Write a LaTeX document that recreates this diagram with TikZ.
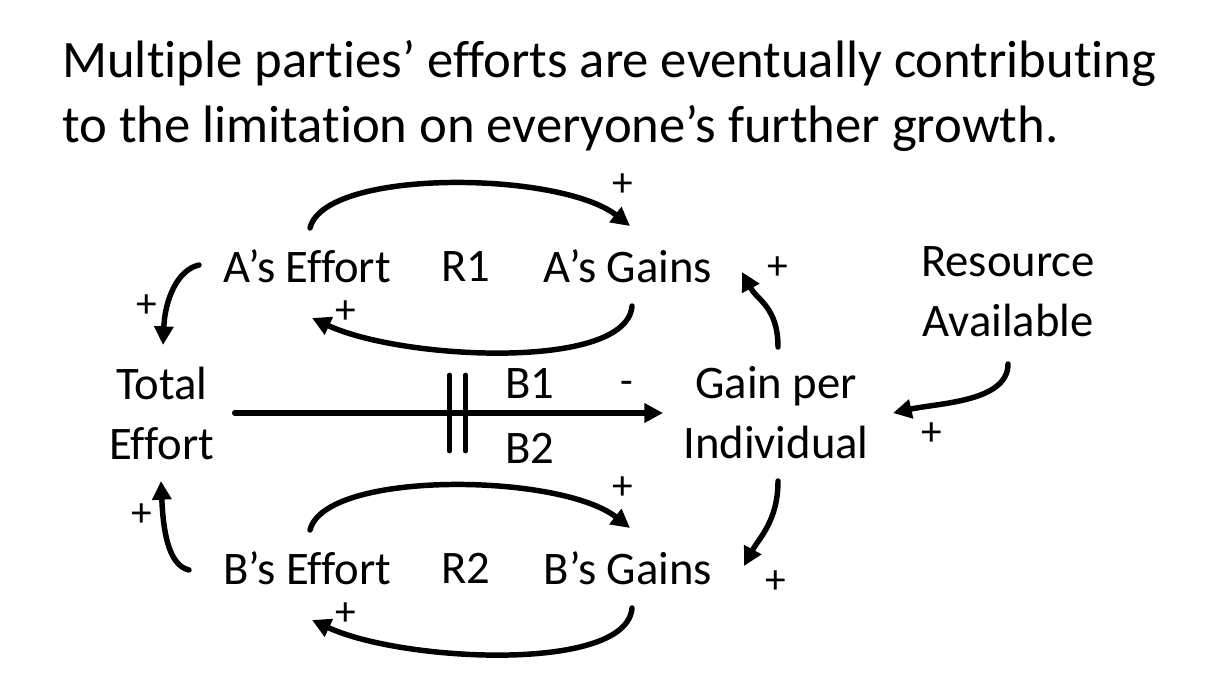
\documentclass[tikz,border=0pt]{standalone}
\usepackage{fontspec}
\setmainfont{Carlito}[Ligatures=CommonOff]
\usetikzlibrary{arrows.meta,calc}

\tikzset{
  var/.style={inner sep=0pt,align=center,font=\fontsize{35}{45}\selectfont},
  pol/.style={inner sep=0pt,font=\fontsize{31}{36}\selectfont},
  link/.style={line width=4.1pt,-{Triangle[length=14pt,width=14pt]}},
}

\begin{document}
\begin{tikzpicture}[x=0.75pt,y=-0.75pt,line cap=round]
    \useasboundingbox (0,0) rectangle (1220,686);
    % heading
    \node[anchor=north west,inner sep=0pt,align=left,font=\fontsize{39.5}{49}\selectfont] (head) at (62,40)
      {Multiple parties’ efforts are eventually contributing\\to the limitation on everyone’s further growth.};
    % variables
    \node[var] (ae) at (307,266) {A’s Effort};
    \node[var] (r1) at (466,266) {R1};
    \node[var] (ag) at (628,266) {A’s Gains};
    \node[var] (res) at (1008,292) {Resource\\Available};
    \node[var] (te) at (162,413) {Total\\Effort};
    \node[var] (gpi) at (776,413) {Gain per\\Individual};
    \node[var] (b1) at (530,383) {B1};
    \node[var] (b2) at (530,448) {B2};
    \node[var] (be) at (307,568) {B’s Effort};
    \node[var] (r2) at (466,568) {R2};
    \node[var] (bg) at (628,568) {B’s Gains};
    % loop R1
    \draw[link] ($(ae)+(3,-38)$) .. controls +(15,-60) and +(-70,-55) .. ($(ag)+(2,-40)$);
    \draw[link] ($(ag)+(4,40)$) .. controls +(-5,65) and +(90,42) .. ($(ae)+(5,52)$);
    \node[pol] (p1) at (623,185) {+};
    \node[pol] (p2) at (346,312) {+};
    % loop R2
    \draw[link] ($(be)+(3,-38)$) .. controls +(15,-60) and +(-70,-55) .. ($(bg)+(2,-40)$);
    \draw[link] ($(bg)+(4,40)$) .. controls +(-5,65) and +(90,42) .. ($(be)+(5,52)$);
    \node[pol] (p3) at (623,488) {+};
    \node[pol] (p4) at (346,614) {+};
    % efforts add up
    \draw[link] ($(ae)+(-108,-1)$) .. controls +(-22,5) and +(2,-45) .. ($(te)+(1,-68)$);
    \draw[link] ($(be)+(-118,2)$) .. controls +(-22,-5) and +(2,45) .. ($(te)+(-1,68)$);
    \node[pol] (p5) at (147,306) {+};
    \node[pol] (p6) at (142,515) {+};
    % balancing link with delay
    \draw[link] ($(te.east)+(20,0)$) -- coordinate[pos=0.52] (dly) ($(gpi.west)+(-20,0)$);
    \draw[line width=3.6pt] ($(dly)+(-8,-38)$) -- ++(0,76) ($(dly)+(8,-38)$) -- ++(0,76);
    \node[pol] (m1) at (627,388) {-};
    % gain per individual
    \draw[link] ($(gpi)+(2,-66)$) .. controls +(0,-40) and +(15,28) .. ($(ag)+(114,6)$);
    \draw[link] ($(gpi)+(2,68)$) .. controls +(0,40) and +(15,-28) .. ($(bg)+(116,-2)$);
    \draw[link] ($(res)+(0,72)$) .. controls +(0,38) and +(45,-10) .. ($(gpi)+(117,0)$);
    \node[pol] (p7) at (778,268) {+};
    \node[pol] (p8) at (776,582) {+};
    \node[pol] (p9) at (932,434) {+};
\end{tikzpicture}
\end{document}
